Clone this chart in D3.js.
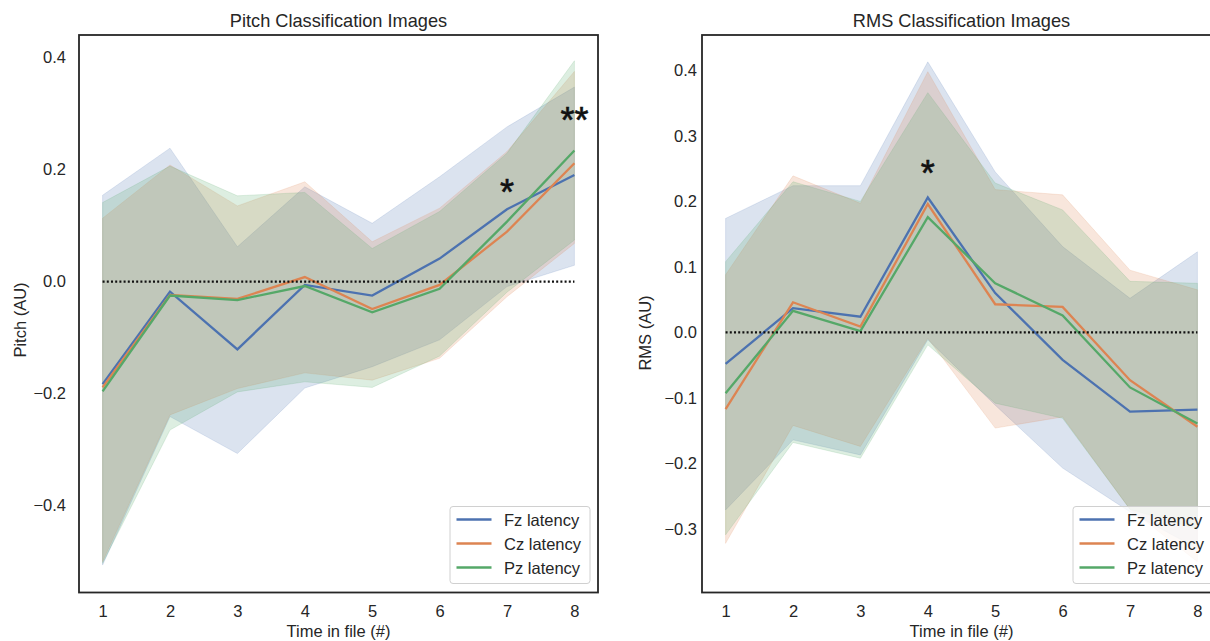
<!DOCTYPE html>
<html>
<head>
<meta charset="utf-8">
<script src="https://cdn.jsdelivr.net/npm/d3@7"></script>
<style>
  html, body { margin: 0; padding: 0; background: #ffffff; }
  svg { display: block; }
  text { font-family: "Liberation Sans", Arial, sans-serif; fill: #262626; }
</style>
</head>
<body>
<svg id="chart" width="1210" height="641"></svg>
<script>
// ---------------- DATA ----------------
const timePoints = [1, 2, 3, 4, 5, 6, 7, 8];
const seriesNames = ["Fz latency", "Cz latency", "Pz latency"];
const seriesColors = ["#4C72B0", "#DD8452", "#55A868"];

// Pitch classification images
const pitchFzMean  = [-0.183, -0.018, -0.121, -0.006, -0.025, 0.041, 0.129, 0.190];
const pitchCzMean  = [-0.189, -0.024, -0.031,  0.008, -0.049, -0.006, 0.089, 0.211];
const pitchPzMean  = [-0.196, -0.025, -0.033, -0.008, -0.055, -0.013, 0.107, 0.234];
const pitchFzUpper = [0.154, 0.238, 0.062, 0.169, 0.104, 0.187, 0.276, 0.347];
const pitchCzUpper = [0.113, 0.208, 0.135, 0.178, 0.071, 0.131, 0.232, 0.375];
const pitchPzUpper = [0.141, 0.206, 0.153, 0.159, 0.059, 0.125, 0.229, 0.394];
const pitchFzLower = [-0.506, -0.241, -0.307, -0.190, -0.152, -0.104, -0.009, 0.029];
const pitchCzLower = [-0.500, -0.238, -0.191, -0.163, -0.176, -0.137, -0.027, 0.068];
const pitchPzLower = [-0.503, -0.265, -0.197, -0.179, -0.189, -0.133, -0.019, 0.074];
const pitchTicks = [-0.4, -0.2, 0.0, 0.2, 0.4];
const pitchSig = [{t: 7, v: 0.168, label: "*"}, {t: 8, v: 0.297, label: "**"}];

// RMS classification images
const rmsFzMean  = [-0.048, 0.037, 0.024, 0.206, 0.060, -0.042, -0.121, -0.118];
const rmsCzMean  = [-0.117, 0.046, 0.009, 0.196, 0.043,  0.039, -0.073, -0.144];
const rmsPzMean  = [-0.093, 0.033, 0.002, 0.176, 0.075,  0.026, -0.084, -0.139];
const rmsFzUpper = [0.174, 0.224, 0.224, 0.413, 0.245, 0.131, 0.052, 0.123];
const rmsCzUpper = [0.088, 0.239, 0.197, 0.398, 0.218, 0.210, 0.095, 0.065];
const rmsPzUpper = [0.108, 0.230, 0.200, 0.366, 0.228, 0.187, 0.078, 0.075];
const rmsFzLower = [-0.271, -0.164, -0.187, -0.011, -0.111, -0.207, -0.274, -0.330];
const rmsCzLower = [-0.322, -0.142, -0.174, -0.009, -0.146, -0.129, -0.270, -0.350];
const rmsPzLower = [-0.309, -0.168, -0.192, -0.019, -0.108, -0.131, -0.270, -0.300];
const rmsTicks = [-0.3, -0.2, -0.1, 0.0, 0.1, 0.2, 0.3, 0.4];
const rmsSig = [{t: 4, v: 0.251, label: "*"}];

// ---------------- PANELS ----------------
const panels = [
  {
    title: "Pitch Classification Images", ylabel: "Pitch (AU)",
    left: 79, right: 598, top: 35, bottom: 592.5,
    ydomain: [-0.555, 0.440], ticks: pitchTicks, tickGap: 13,
    ylabelX: 25.5, ylabelY: 320,
    means: [pitchFzMean, pitchCzMean, pitchPzMean],
    uppers: [pitchFzUpper, pitchCzUpper, pitchPzUpper],
    lowers: [pitchFzLower, pitchCzLower, pitchPzLower],
    sig: pitchSig
  },
  {
    title: "RMS Classification Images", ylabel: "RMS (AU)",
    left: 702, right: 1221, top: 35, bottom: 592.5,
    ydomain: [-0.397, 0.454], ticks: rmsTicks, tickGap: 5,
    ylabelX: 651, ylabelY: 333,
    means: [rmsFzMean, rmsCzMean, rmsPzMean],
    uppers: [rmsFzUpper, rmsCzUpper, rmsPzUpper],
    lowers: [rmsFzLower, rmsCzLower, rmsPzLower],
    sig: rmsSig
  }
];

const svg = d3.select("#chart");
const fmt = d => d3.format(".1f")(d).replace("-", "\u2212");
const FONT = '"Liberation Sans", Arial, sans-serif';

panels.forEach(p => {
  const g = svg.append("g");
  const x = d3.scaleLinear().domain([0.65, 8.35]).range([p.left, p.right]);
  const y = d3.scaleLinear().domain(p.ydomain).range([p.bottom, p.top]);

  // confidence bands
  p.means.forEach((m, i) => {
    const rows = timePoints.map((t, j) => ({t, lo: p.lowers[i][j], hi: p.uppers[i][j]}));
    const area = d3.area().x(d => x(d.t)).y0(d => y(d.lo)).y1(d => y(d.hi));
    g.append("path").datum(rows).attr("d", area)
      .attr("fill", seriesColors[i]).attr("fill-opacity", 0.2)
      .attr("stroke", seriesColors[i]).attr("stroke-opacity", 0.2).attr("stroke-width", 0.8);
  });

  // mean lines
  p.means.forEach((m, i) => {
    const rows = timePoints.map((t, j) => ({t, v: m[j]}));
    const line = d3.line().x(d => x(d.t)).y(d => y(d.v));
    g.append("path").datum(rows).attr("d", line)
      .attr("fill", "none").attr("stroke", seriesColors[i]).attr("stroke-width", 2.3)
      .attr("stroke-linejoin", "miter");
  });

  // zero reference (dotted)
  g.append("line")
    .attr("x1", x(timePoints[0])).attr("x2", x(timePoints[timePoints.length - 1]))
    .attr("y1", y(0)).attr("y2", y(0))
    .attr("stroke", "#111").attr("stroke-width", 2.2).attr("stroke-dasharray", "2,2.2");

  // significance markers
  const sfs = 36;
  p.sig.forEach(s => {
    g.append("text").attr("x", x(s.t)).attr("y", y(s.v) + 0.50 * sfs)
      .attr("text-anchor", "middle").style("font-size", sfs + "px").style("fill", "#111")
      .style("stroke", "#111").style("stroke-width", 0.6)
      .text(s.label);
  });

  // y axis tick labels (no tick marks)
  const yAxis = d3.axisLeft(y).tickValues(p.ticks).tickFormat(fmt).tickSize(0).tickPadding(p.tickGap);
  const ya = g.append("g").attr("transform", `translate(${p.left},0)`).call(yAxis);
  ya.select(".domain").remove();
  ya.selectAll("text").style("font-size", "16.5px").style("font-family", FONT).attr("fill", "#262626");

  // x axis tick labels
  const xAxis = d3.axisBottom(x).tickValues(timePoints).tickFormat(d3.format("d")).tickSize(0).tickPadding(13);
  const xa = g.append("g").attr("transform", `translate(0,${p.bottom})`).call(xAxis);
  xa.select(".domain").remove();
  xa.selectAll("text").style("font-size", "16.5px").style("font-family", FONT).attr("fill", "#262626");

  // frame
  g.append("rect").attr("x", p.left).attr("y", p.top)
    .attr("width", p.right - p.left).attr("height", p.bottom - p.top)
    .attr("fill", "none").attr("stroke", "#262626").attr("stroke-width", 1.8);

  // title & labels
  g.append("text").attr("x", (p.left + p.right) / 2).attr("y", 27)
    .attr("text-anchor", "middle").style("font-size", "18.2px").text(p.title);
  g.append("text").attr("x", (p.left + p.right) / 2).attr("y", 637)
    .attr("text-anchor", "middle").style("font-size", "16.5px").text("Time in file (#)");
  g.append("text").attr("transform", `translate(${p.ylabelX},${p.ylabelY}) rotate(-90)`)
    .attr("text-anchor", "middle").style("font-size", "16.5px").text(p.ylabel);

  // legend
  const lgRight = p.right - 8, lgW = 140, lgTop = 506.5, lgH = 77;
  const lg = g.append("g").attr("transform", `translate(${lgRight - lgW},${lgTop})`);
  lg.append("rect").attr("width", lgW).attr("height", lgH).attr("rx", 3)
    .attr("fill", "#ffffff").attr("fill-opacity", 0.8).attr("stroke", "#d0d0d0").attr("stroke-width", 1);
  seriesNames.forEach((name, i) => {
    const ry = 13 + i * 24;
    lg.append("line").attr("x1", 6.5).attr("x2", 41.5).attr("y1", ry).attr("y2", ry)
      .attr("stroke", seriesColors[i]).attr("stroke-width", 2.3);
    lg.append("text").attr("x", 54).attr("y", ry + 6).style("font-size", "16.5px").text(name);
  });
});
</script>
</body>
</html>
